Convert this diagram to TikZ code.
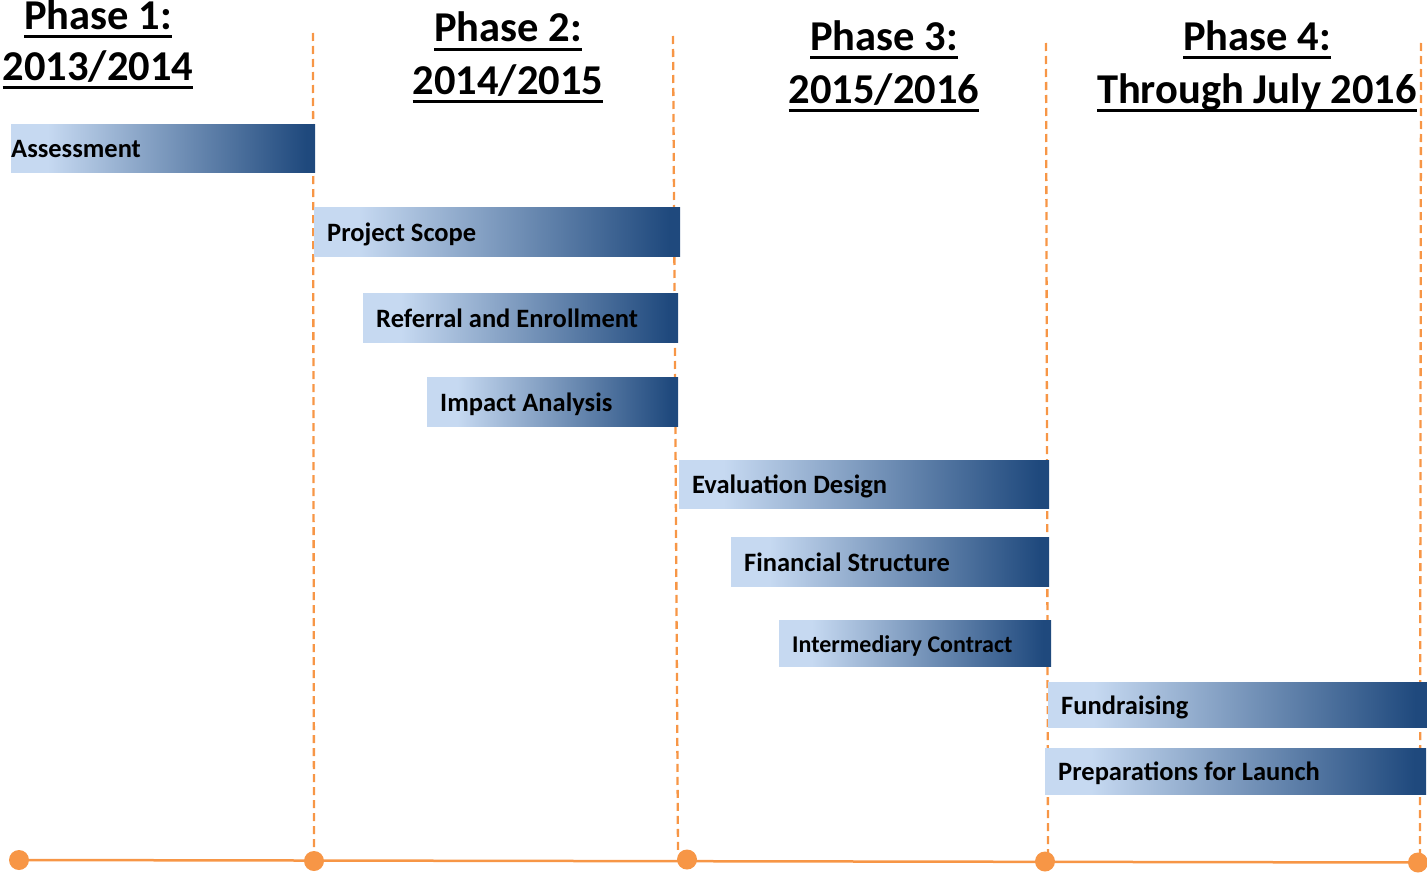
\documentclass[tikz,border=0pt]{standalone}
\usepackage{fontspec}
\setmainfont{Carlito}
\usetikzlibrary{calc}
\definecolor{lightb}{HTML}{C6D9F1}
\definecolor{darkb}{HTML}{1F497D}
\definecolor{orng}{HTML}{F79646}
\pgfdeclarehorizontalshading{barshade}{100bp}{color(0bp)=(lightb); color(31bp)=(lightb); color(73.5bp)=(darkb); color(100bp)=(darkb)}
\newcommand\ulx[1]{\setbox0\hbox{#1}\rlap{\rule[-8.5pt]{\wd0}{3pt}}\box0}
\tikzset{
  bar/.style={shading=barshade, draw=none, inner sep=0pt, anchor=north west},
  lbl/.style={inner sep=0pt, anchor=base west, font=\fontsize{26.5}{30}\selectfont\bfseries},
  head/.style={inner sep=0pt, anchor=base, font=\fontsize{42.5}{52}\selectfont\bfseries},
  dashline/.style={draw=orng, line width=2.3pt, dash pattern=on 8pt off 5pt},
  baseline/.style={draw=orng, line width=2.5pt},
  dot/.style={circle, fill=orng, inner sep=0pt, minimum size=20pt},
}
\begin{document}
\begin{tikzpicture}[x=1pt,y=-1pt]
\useasboundingbox (0,0) rectangle (1427,875);
% headers
\node[head] (h1a) at (98,29.5) {\ulx{Phase 1:}};
\node[head] (h1b) at (98,81) {\ulx{2013/2014}};
\node[head] (h2a) at (508,42) {\ulx{Phase 2:}};
\node[head] (h2b) at (508,94) {\ulx{2014/2015}};
\node[head] (h3a) at (884,51) {\ulx{Phase 3:}};
\node[head] (h3b) at (884,103) {\ulx{2015/2016}};
\node[head] (h4a) at (1257,51) {\ulx{Phase 4:}};
\node[head] (h4b) at (1257,103) {\ulx{Through July 2016}};
% coordinates
\coordinate (c1) at (19,860);
\coordinate (c2) at (314,861);
\coordinate (c3) at (687,859.5);
\coordinate (c4) at (1045,861.5);
\coordinate (c5) at (1418,862.5);
\coordinate (t1) at (313,33);
\coordinate (u1) at (314,852);
\coordinate (t2) at (673,36);
\coordinate (u2) at (678,852);
\coordinate (t3) at (1046,43);
\coordinate (u3) at (1048,853);
\coordinate (t4) at (1421,43);
\coordinate (u4) at (1420,854);
% dashed dividers
\draw[dashline] (t1) -- (u1);
\draw[dashline] (t2) -- (u2);
\draw[dashline] (t3) -- (u3);
\draw[dashline] (t4) -- (u4);
% timeline
\draw[baseline] (c1) -- (c5);
\node[dot] (d1) at (c1) {};
\node[dot] (d2) at (c2) {};
\node[dot] (d3) at (c3) {};
\node[dot] (d4) at (c4) {};
\node[dot] (d5) at (c5) {};
% bars
\node[bar, minimum width=304pt, minimum height=48pt] (b1) at (11,124) {};
\node[bar, minimum width=366pt, minimum height=49pt] (b2) at (314,207) {};
\node[bar, minimum width=315pt, minimum height=49pt] (b3) at (363,293) {};
\node[bar, minimum width=251pt, minimum height=49pt] (b4) at (427,377) {};
\node[bar, minimum width=370pt, minimum height=48pt] (b5) at (679,460) {};
\node[bar, minimum width=318pt, minimum height=49pt] (b6) at (731,537) {};
\node[bar, minimum width=272pt, minimum height=46pt] (b7) at (779,620) {};
\node[bar, minimum width=379pt, minimum height=45pt] (b8) at (1048,682) {};
\node[bar, minimum width=381pt, minimum height=46pt] (b9) at (1045,748) {};
% labels
\node[lbl] (l1) at ($(b1.west)+(0,9.5)$) {Assessment};
\node[lbl] (l2) at ($(b2.west)+(13,9.5)$) {Project Scope};
\node[lbl] (l3) at ($(b3.west)+(13,9.5)$) {Referral and Enrollment};
\node[lbl] (l4) at ($(b4.west)+(13,9.5)$) {Impact Analysis};
\node[lbl] (l5) at ($(b5.west)+(13,9.5)$) {Evaluation Design};
\node[lbl] (l6) at ($(b6.west)+(13,9.5)$) {Financial Structure};
\node[lbl, font=\fontsize{24}{28}\selectfont\bfseries] (l7) at ($(b7.west)+(13,9)$) {Intermediary Contract};
\node[lbl] (l8) at ($(b8.west)+(13,9.5)$) {Fundraising};
\node[lbl] (l9) at ($(b9.west)+(13,9.5)$) {Preparations for Launch};
\end{tikzpicture}
\end{document}
